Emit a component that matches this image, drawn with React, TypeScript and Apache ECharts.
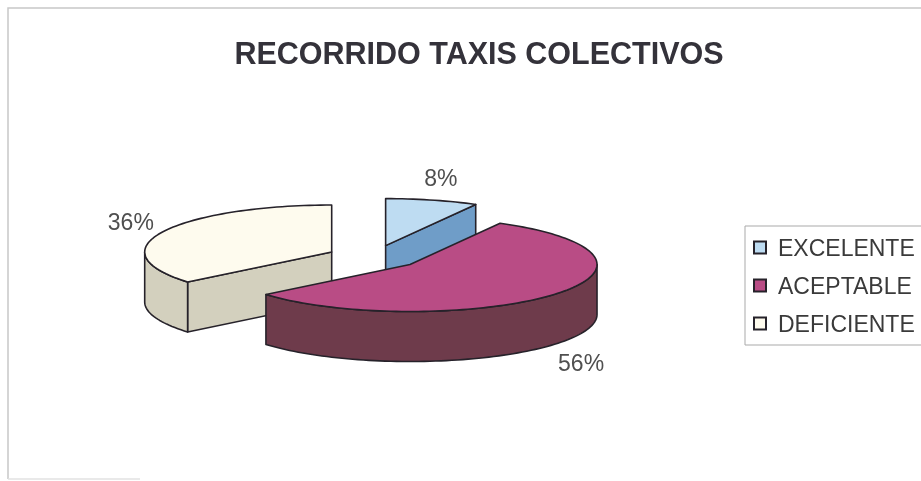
import React, { useEffect, useRef } from "react";
import * as echarts from "echarts";

const titleText = "RECORRIDO TAXIS COLECTIVOS";
const categories = ["EXCELENTE", "ACEPTABLE", "DEFICIENTE"];
const percentages = [8, 56, 36];
const topColors = ["#BEDCF2", "#B94C85", "#FEFBEE"];
const sideColors = ["#6F9DC8", "#6E3B4B", "#D3D0BE"];
const drawOrder = [2, 0, 1];

const CX = 374, CY = 257, RX = 187, RY = 47, DEPTH = 50, EXPLODE = 0.25;
const LABEL_RX = 222, LABEL_RY = 70, FRONT_GAP = 4;
const EDGE = "#26222a";
const total = percentages.reduce((a, b) => a + b, 0);

function sliceAngles(i: number): [number, number] {
  let before = 0;
  for (let k = 0; k < i; k++) before += percentages[k];
  return [(before / total) * 2 * Math.PI, ((before + percentages[i]) / total) * 2 * Math.PI];
}

function renderSlice(i: number) {
  return (_params: any, api: any) => {
    const value = api.value(0);
    const [a0, a1] = sliceAngles(i);
    const mid = (a0 + a1) / 2;
    const cx = CX + EXPLODE * RX * Math.sin(mid);
    const cy = CY - EXPLODE * RY * Math.cos(mid);
    const rim = (a: number, d = 0): number[] => [cx + RX * Math.sin(a), cy - RY * Math.cos(a) + d];
    const arc = (from: number, to: number, d = 0) => {
      const n = Math.max(2, Math.ceil(Math.abs(to - from) / 0.03));
      const pts: number[][] = [];
      for (let k = 0; k <= n; k++) pts.push(rim(from + ((to - from) * k) / n, d));
      return pts;
    };
    const sideStyle = { fill: sideColors[i], stroke: EDGE, lineWidth: 1.6, lineJoin: "round" };
    const children: any[] = [];
    const radialFace = (a: number) => {
      const r = rim(a);
      children.push({
        type: "polygon",
        shape: { points: [[cx, cy], r, [r[0], r[1] + DEPTH], [cx, cy + DEPTH]] },
        style: sideStyle,
      });
    };
    if (Math.sin(a0) < -1e-6) radialFace(a0);
    if (Math.sin(a1) > 1e-6) radialFace(a1);
    const w0 = Math.max(a0, Math.PI / 2);
    const w1 = Math.min(a1, (3 * Math.PI) / 2);
    if (w1 > w0) {
      children.push({
        type: "polygon",
        shape: { points: [...arc(w0, w1), ...arc(w1, w0, DEPTH)] },
        style: sideStyle,
      });
    }
    children.push({
      type: "polygon",
      shape: { points: [[cx, cy], ...arc(a0, a1)] },
      style: { fill: topColors[i], stroke: EDGE, lineWidth: 1.6, lineJoin: "round" },
    });
    const front = Math.cos(mid) < 0 ? DEPTH + FRONT_GAP : 0;
    children.push({
      type: "text",
      x: cx + LABEL_RX * Math.sin(mid),
      y: cy - LABEL_RY * Math.cos(mid) + front,
      style: {
        text: `${value}%`,
        fill: "#4f4f4f",
        font: '23px "Liberation Sans"',
        align: "center",
        verticalAlign: "middle",
      },
    });
    return { type: "group", children };
  };
}

export default function App() {
  const ref = useRef<HTMLDivElement>(null);
  useEffect(() => {
    const chart = echarts.init(ref.current!, undefined, { renderer: "svg" });
    chart.setOption({
      animation: false,
      backgroundColor: "#ffffff",
      title: {
        text: titleText,
        left: 474,
        top: 32,
        textAlign: "center",
        textStyle: { fontFamily: "Liberation Sans", fontWeight: "bold", fontSize: 30.5, color: "#34323a" },
      },
      legend: {
        orient: "vertical",
        left: 745,
        top: 226,
        padding: [10, 20, 10, 8],
        itemGap: 15,
        itemWidth: 12,
        itemHeight: 12,
        borderColor: "#a9a9a9",
        borderWidth: 1,
        selectedMode: false,
        icon: "rect",
        data: categories,
        textStyle: { fontFamily: "Liberation Sans", fontSize: 23, color: "#3a3a3a", padding: [0, 0, 0, 7] },
      },
      graphic: [
        {
          type: "polyline",
          silent: true,
          shape: { points: [[921, 8], [8, 8], [8, 479]] },
          style: { stroke: "#c8c8c8", lineWidth: 1.5, fill: "none" },
        },
        {
          type: "line",
          silent: true,
          shape: { x1: 8, y1: 479, x2: 140, y2: 479 },
          style: { stroke: "#e2e2e2", lineWidth: 1.5 },
        },
      ],
      series: drawOrder.map((i) => ({
        type: "custom",
        name: categories[i],
        coordinateSystem: "none",
        itemStyle: { color: topColors[i], borderColor: EDGE, borderWidth: 1.5 },
        renderItem: renderSlice(i),
        data: [[percentages[i]]],
      })),
    });
    return () => chart.dispose();
  }, []);
  return (
    <div
      ref={ref}
      style={{ position: "fixed", left: 0, top: 0, width: 921, height: 481, filter: "blur(0.5px)" }}
    />
  );
}
